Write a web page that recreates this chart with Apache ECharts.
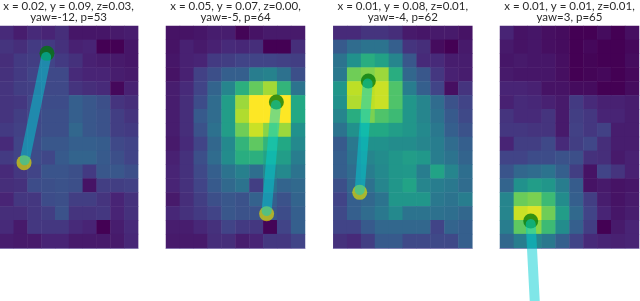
<!DOCTYPE html>
<html><head><meta charset="utf-8">
<style>html,body{margin:0;padding:0;background:#fff}#c{width:640px;height:301px}</style>
<script src="https://cdn.jsdelivr.net/npm/echarts@6/dist/echarts.min.js"></script>
</head><body><div id="c"></div>
<script>
const viridis=['#440154','#482475','#414487','#355f8d','#2a788e','#21918c','#22a884','#44bf70','#7ad151','#bddf26','#fde725'];
const titles=['x = 0.02, y = 0.09, z=0.03,\nyaw=-12, p=53','x = 0.05, y = 0.07, z=0.00,\nyaw=-5, p=64','x = 0.01, y = 0.08, z=0.01,\nyaw=-4, p=62','x = 0.01, y = 0.01, z=0.01,\nyaw=3, p=65'];
const panel1=[
[.12,.08,.12,.1,.13,.06,.06,.06,.07,.08],
[.15,.13,.17,.17,.14,.09,.1,0,0,.06],
[.13,.17,.18,.2,.17,.14,.09,.08,.07,.06],
[.14,.17,.2,.22,.22,.12,.1,.1,.08,.07],
[.15,.18,.19,.22,.22,.15,.13,.12,.02,.09],
[.15,.16,.21,.23,.23,.3,.27,.24,.15,.13],
[.15,.18,.21,.24,.24,.3,.27,.25,.18,.15],
[.17,.19,.22,.24,.24,.33,.27,.25,.18,.17],
[.12,.2,.23,.27,.27,.3,.3,.29,.22,.2],
[.17,.2,.23,.21,.28,.32,.32,.28,.24,.2],
[.12,.16,.2,.26,.26,.24,.17,.27,.27,.24],
[.13,.14,.23,.24,.25,.24,.05,.18,.18,.19],
[.1,.16,.16,.23,.24,.18,.18,.15,.1,.14],
[.13,.13,.16,.18,.25,.15,.15,.16,.1,.14],
[.12,.07,.16,.16,.16,.12,.1,0,.08,.12],
[.08,.07,.07,.1,.1,.07,.07,.07,.07,.11]];
const panel2=[
[.05,.05,.06,.08,.08,.01,.05,.07,.07,.07],
[.05,.09,.07,.09,.12,.11,.13,0,0,.13],
[.06,.09,.1,.17,.18,.2,.2,.2,.19,.18],
[.05,.09,.19,.24,.3,.3,.42,.44,.37,.24],
[.08,.12,.2,.32,.45,.63,.76,.86,.65,.38],
[.08,.13,.23,.35,.55,.85,1,1,1,.6],
[.08,.13,.28,.35,.55,.88,1,1,1,.6],
[.08,.13,.25,.37,.55,.78,.92,.82,.85,.5],
[.07,.12,.2,.33,.47,.65,.75,.65,.6,.47],
[.09,.14,.24,.35,.48,.62,.63,.58,.55,.42],
[.1,.14,.22,.3,.38,.43,.36,.45,.47,.38],
[.1,.14,.2,.28,.34,.38,.18,.38,.32,.34],
[.07,.13,.18,.24,.27,.25,.31,.3,.25,.32],
[.11,.14,.17,.2,.27,.25,.25,.27,.23,.3],
[.08,.08,.11,.14,.2,.17,.16,.01,.2,.3],
[.07,.07,.07,.13,.13,.08,.1,.16,.16,.2]];
const panel3=[
[.12,.12,.15,.15,.13,.07,.06,.07,.07,.05],
[.28,.35,.38,.38,.3,.15,.13,.03,0,.07],
[.38,.5,.62,.57,.45,.27,.12,.12,.08,.08],
[.4,.78,.81,.85,.62,.33,.27,.16,.09,.08],
[.52,.9,.9,.92,.72,.42,.3,.2,.04,.15],
[.5,.88,.9,.92,.72,.52,.45,.35,.25,.2],
[.45,.62,.8,.72,.68,.52,.45,.37,.28,.22],
[.38,.5,.6,.6,.55,.52,.47,.4,.3,.25],
[.28,.4,.5,.5,.48,.48,.45,.42,.35,.3],
[.3,.38,.45,.48,.52,.55,.53,.42,.38,.32],
[.3,.35,.42,.47,.52,.53,.42,.58,.45,.36],
[.24,.33,.37,.45,.52,.58,.45,.42,.4,.35],
[.2,.3,.33,.38,.52,.52,.52,.4,.38,.42],
[.22,.3,.35,.4,.47,.38,.38,.37,.36,.33],
[.2,.2,.28,.33,.33,.33,.33,.2,.32,.3],
[.14,.12,.18,.28,.28,.22,.22,.22,.22,.3]];
const panel4=[
[.1,.05,.06,.04,.03,0,0,.03,0,.04],
[.07,.05,.06,.04,.03,0,.02,0,0,.02],
[.06,.07,.06,.06,.04,0,.01,0,0,.03],
[.07,.06,.06,.06,.04,0,.01,.02,0,.02],
[.1,.1,.09,.05,.05,.03,.03,0,0,.03],
[.09,.12,.11,.09,.07,.17,.12,.09,.09,.08],
[.15,.12,.12,.15,.07,.18,.16,.1,.1,.08],
[.16,.16,.15,.15,.07,.19,.16,.19,.08,.08],
[.1,.18,.18,.22,.12,.18,.21,.13,.08,.08],
[.2,.2,.23,.23,.25,.24,.14,.13,.07,.09],
[.26,.33,.35,.38,.3,.18,.05,.2,.15,.09],
[.32,.5,.55,.52,.42,.29,.05,.07,.05,.06],
[.45,.77,.8,.68,.48,.3,.18,.08,.05,.07],
[.45,.92,.95,.78,.55,.34,.2,.1,.06,.08],
[.42,.75,.82,.68,.48,.3,.18,0,.07,.1],
[.33,.42,.45,.4,.3,.2,.12,.1,.09,.1]];
const startDots=[[1.74,9.85],[7.24,13.53],[1.90,11.99],[2.59,21.4]];
const endDots=[[3.40,1.97],[7.94,5.48],[2.52,3.96],[2.21,14.05]];
const links=[[[1.79,9.68],[3.34,2.23]],[[7.24,13.33],[7.91,5.69]],[[1.90,11.82],[2.47,4.14]],[[2.57,21.19],[2.21,14.27]]];
const panelLefts=[-0.9,166,333.3,500];
const panels=[panel1,panel2,panel3,panel4];
const rowsN=16,colsN=10;
const colCats=Array.from({length:colsN},(_,i)=>i),rowCats=Array.from({length:rowsN},(_,i)=>i);
const W=139,H=222,T=26;
const grid=[],xAxis=[],yAxis=[],series=[],title=[],heat=[];
panels.forEach((m,k)=>{
  grid.push({left:panelLefts[k],top:T,width:W,height:H,containLabel:false});
  const off={show:false};
  xAxis.push({gridIndex:k,type:'category',data:colCats,show:false,boundaryGap:true});
  xAxis.push({gridIndex:k,type:'value',min:0,max:colsN,position:'bottom',axisLine:{show:true,onZero:false,lineStyle:{color:'#9a90c4',width:1}},axisTick:off,axisLabel:off,splitLine:off});
  yAxis.push({gridIndex:k,type:'category',data:rowCats,inverse:true,show:false,boundaryGap:true});
  yAxis.push({gridIndex:k,type:'value',min:0,max:rowsN,inverse:true,show:false,splitLine:off});
  const d=[];m.forEach((r,y)=>r.forEach((v,x)=>d.push([x,y,v])));
  heat.push(series.length);
  series.push({type:'heatmap',xAxisIndex:2*k,yAxisIndex:2*k,data:d,silent:true,progressive:0,animation:false,itemStyle:{borderWidth:0},z:1});
  series.push({type:'scatter',xAxisIndex:2*k+1,yAxisIndex:2*k+1,data:[startDots[k]],symbolSize:15,clip:false,silent:true,animation:false,itemStyle:{color:'rgba(225,220,2,.85)'},z:2});
  series.push({type:'scatter',xAxisIndex:2*k+1,yAxisIndex:2*k+1,data:[endDots[k]],symbolSize:15,clip:false,silent:true,animation:false,itemStyle:{color:'rgba(0,120,10,.95)'},z:2});
  series.push({type:'line',xAxisIndex:2*k+1,yAxisIndex:2*k+1,data:links[k],showSymbol:false,symbol:'none',clip:false,silent:true,animation:false,lineStyle:{color:'rgba(0,206,209,.5)',width:10,cap:'round'},z:3});
  title.push({text:titles[k],left:panelLefts[k]+W/2,top:0.5,textAlign:'center',textStyle:{fontFamily:'Lato',fontSize:11.5,fontWeight:'normal',color:'#2a2a2a',lineHeight:11.5},padding:0});
});
const chart=echarts.init(document.getElementById('c'),null,{renderer:'canvas'});
chart.setOption({animation:false,backgroundColor:'#fff',title,grid,xAxis,yAxis,series,
  visualMap:{show:false,min:0,max:1,seriesIndex:heat,dimension:2,inRange:{color:viridis}}});
</script></body></html>
